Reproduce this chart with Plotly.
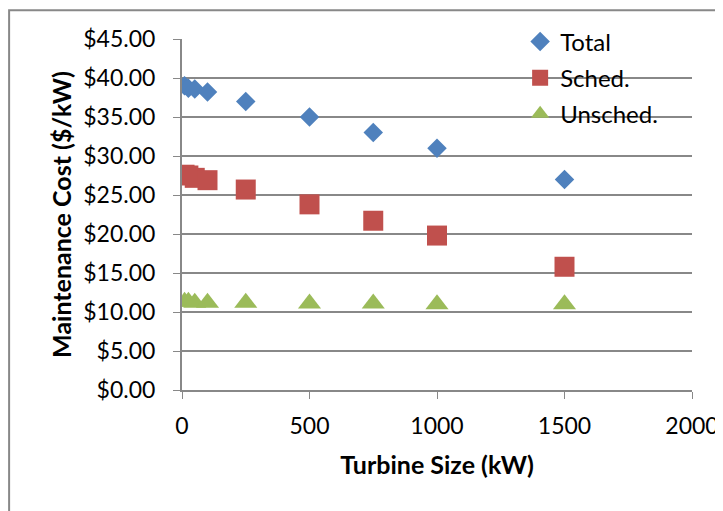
import plotly.graph_objects as go

# turbine sizes (kW) and maintenance costs ($/kW)
turbine_size = [10, 25, 50, 100, 250, 500, 750, 1000, 1500]
total = [39.0, 38.7, 38.6, 38.2, 37.0, 35.0, 33.0, 31.0, 27.0]
sched = [27.6, 27.5, 27.2, 26.9, 25.7, 23.8, 21.7, 19.8, 15.8]
unsched = [11.3, 11.3, 11.2, 11.2, 11.2, 11.1, 11.1, 11.0, 11.0]

y_ticks = [0, 5, 10, 15, 20, 25, 30, 35, 40, 45]
y_labels = ['$%.2f' % v for v in y_ticks]

fnt = 'Lato, Liberation Sans, sans-serif'

fig = go.Figure()
fig.add_trace(go.Scatter(x=turbine_size, y=total, mode='markers', name='Total', legendgroup='a',
                         marker=dict(symbol='diamond', size=15, color='#4F81BD')))
fig.add_trace(go.Scatter(x=turbine_size, y=sched, mode='markers', name='Sched.', legendgroup='b',
                         marker=dict(symbol='square', size=20, color='#C0504D')))
fig.add_trace(go.Scatter(x=turbine_size, y=unsched, mode='markers', name='Unsched.', legendgroup='c',
                         marker=dict(symbol='triangle-up', size=20, color='#9BBB59')))

# page body adds 8px, so the plot area is offset by 8px
fig.update_layout(
    width=723, height=503,
    margin=dict(l=174, r=39, t=30, b=121),
    paper_bgcolor='white', plot_bgcolor='white',
    font=dict(family=fnt, size=23, color='black'),
    showlegend=True,
    legend=dict(x=0.663, y=1.053, xanchor='left', yanchor='top', bgcolor='rgba(0,0,0,0)',
                tracegroupgap=2, itemwidth=30, itemsizing='trace', font=dict(size=24)),
    xaxis=dict(range=[0, 2000], tickvals=[0, 500, 1000, 1500, 2000], showgrid=False,
               showline=True, linecolor='#888888', linewidth=2, ticks='outside', ticklen=7,
               tickcolor='#888888', zeroline=False, automargin=False, ticklabelstandoff=7,
               title=dict(text='<b>Turbine Size (kW)</b>', font=dict(size=25), standoff=19)),
    yaxis=dict(range=[0, 45], tickvals=y_ticks, ticktext=y_labels, showgrid=True,
               gridcolor='#888888', gridwidth=2, showline=True, linecolor='#888888', linewidth=2,
               ticks='outside', ticklen=7, tickcolor='#888888', zeroline=False, automargin=False,
               ticklabelstandoff=13,
               title=dict(text='<b>Maintenance Cost ($/kW)</b>', font=dict(size=25), standoff=5)),
    shapes=[dict(type='rect', xref='paper', yref='paper', x0=-0.339, x1=1.059, y0=-0.4, y1=1.082,
                 line=dict(color='#888888', width=2), fillcolor='rgba(0,0,0,0)', layer='below')],
)

fig.write_html("out.html")
